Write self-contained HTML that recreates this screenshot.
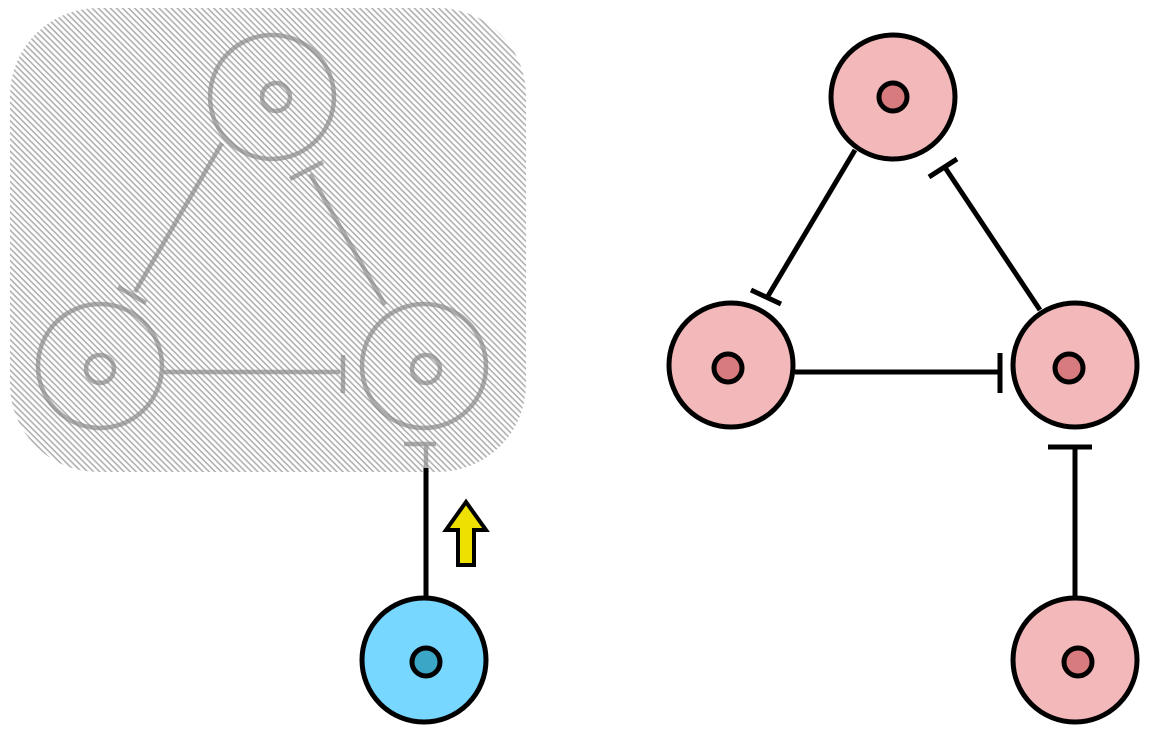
<!DOCTYPE html>
<html><head><meta charset="utf-8"><style>html,body{margin:0;padding:0;background:#fff}svg{display:block}</style></head>
<body>
<svg width="1159" height="740" viewBox="0 0 1159 740" xmlns="http://www.w3.org/2000/svg">
<defs>
<pattern id="h" width="4.3" height="4.3" patternUnits="userSpaceOnUse" patternTransform="rotate(45)">
<rect width="4.3" height="4.3" fill="#fff"/>
<rect width="4.3" height="1.6" fill="#b0b0b0"/>
</pattern>
</defs>
<rect x="10" y="8" width="516" height="464" rx="88" fill="url(#h)"/>
<g stroke="#8a8a8a" stroke-width="4.5" fill="none" opacity="0.7">
<circle cx="272" cy="97" r="62"/><circle cx="276" cy="97" r="14"/>
<circle cx="100" cy="366" r="62"/><circle cx="100" cy="369" r="14"/>
<circle cx="424" cy="366" r="62"/><circle cx="426" cy="369" r="14"/>
<line x1="222" y1="143" x2="135" y2="292"/><line x1="118" y1="287" x2="146" y2="303"/>
<line x1="385" y1="305" x2="310" y2="174"/><line x1="290" y1="179" x2="323" y2="162"/>
<line x1="160" y1="372" x2="340" y2="372"/><line x1="343" y1="355" x2="343" y2="393"/>
<line x1="426" y1="468" x2="426" y2="444"/><line x1="404" y1="444" x2="436" y2="444"/>
</g>
<g stroke="#000" stroke-width="5" fill="none">
<line x1="426" y1="468" x2="426" y2="600"/>
<line x1="855" y1="150" x2="768" y2="296"/><line x1="751" y1="290" x2="781" y2="304"/>
<line x1="1040" y1="310" x2="944" y2="166"/><line x1="929" y1="177" x2="957" y2="159"/>
<line x1="795" y1="372" x2="1000" y2="372"/><line x1="1000" y1="353" x2="1000" y2="393"/>
<line x1="1075" y1="598" x2="1075" y2="447"/><line x1="1048" y1="447" x2="1092" y2="447"/>
</g>
<g stroke="#000" stroke-width="5">
<circle cx="424" cy="660" r="62" fill="#78d7ff"/><circle cx="426" cy="662" r="14" fill="#3ca6c6"/>
<circle cx="893" cy="97" r="62" fill="#f3b8ba"/><circle cx="893" cy="97" r="14" fill="#d77b7e"/>
<circle cx="731" cy="365" r="62" fill="#f3b8ba"/><circle cx="728" cy="368" r="14" fill="#d77b7e"/>
<circle cx="1075" cy="365" r="62" fill="#f3b8ba"/><circle cx="1069" cy="368" r="14" fill="#d77b7e"/>
<circle cx="1075" cy="660" r="62" fill="#f3b8ba"/><circle cx="1078" cy="662" r="14" fill="#d77b7e"/>
</g>
<polygon points="466,502 446,530 458,530 458,565 474,565 474,530 486,530" fill="#eee000" stroke="#000" stroke-width="4"/>
</svg>
</body></html>
